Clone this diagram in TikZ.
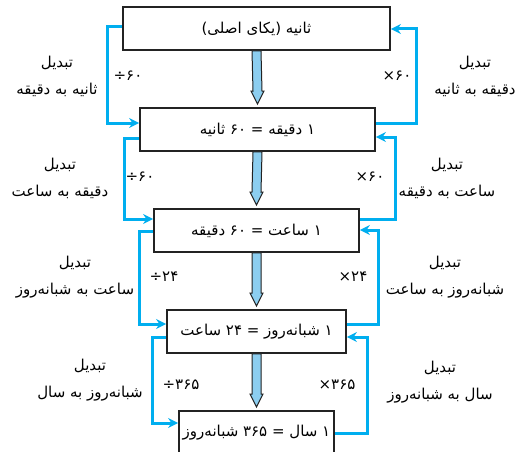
\documentclass[tikz,border=0pt]{standalone}
\usepackage{fontspec}
\usetikzlibrary{arrows.meta}
\TeXXeTstate=1
\newfontfamily\fa[Script=Arabic]{DejaVu Sans}
\newfontfamily\fanum{DejaVu Sans}
\definecolor{convblue}{RGB}{0,174,239}
\definecolor{shaftblue}{RGB}{140,206,240}
\definecolor{boxline}{RGB}{35,35,35}

\tikzset{
  unitbox/.style={draw=boxline, line width=1.8pt, minimum height=43pt, inner sep=0pt,
    font=\fa\fontsize{15}{17}\selectfont},
  conv/.style={draw=convblue, line width=3pt, -{Stealth[length=10pt,width=10pt]}},
  flow/.style={draw=boxline, line width=1pt, fill=shaftblue, line join=miter},
  convlabel/.style={align=center, font=\fa\fontsize{15}{27}\selectfont},
  oplabel/.style={font=\fanum\fontsize{15}{17}\selectfont}
}

\begin{document}
\begin{tikzpicture}[x=1pt,y=-1pt]
      \useasboundingbox (0,0) rectangle (522,452);
      % the five units
      \node[unitbox, minimum width=267pt] (sec)  at (256.5,28.5)  {\beginR ثانیه (یکای اصلی)\endR};
      \node[unitbox, minimum width=235pt] (min)  at (257.5,129.5) {\beginR ۱ دقیقه = ۶۰ ثانیه\endR};
      \node[unitbox, minimum width=205pt] (hour) at (256.5,230.5) {\beginR ۱ ساعت = ۶۰ دقیقه\endR};
      \node[unitbox, minimum width=179pt] (day)  at (256.5,331.5) {\beginR ۱ شبانه‌روز = ۲۴ ساعت\endR};
      \node[unitbox, minimum width=155pt] (year) at (256.5,432.5) {\beginR ۱ سال = ۳۶۵ شبانه‌روز\endR};

      % thick arrows down the middle
      \foreach \a/\b in {sec/min, min/hour, hour/day, day/year}
        \draw[flow] ([xshift=-4.5pt]\a.south) -- ([xshift=-4.5pt,yshift=16pt]\b.north)
          -- ([xshift=-6.5pt,yshift=16pt]\b.north) -- ([yshift=3pt]\b.north)
          -- ([xshift=6.5pt,yshift=16pt]\b.north) -- ([xshift=4.5pt,yshift=16pt]\b.north)
          -- ([xshift=4.5pt]\a.south) -- cycle;

      % left side: to the bigger unit
      \draw[conv] (sec.west |- 0,27)   -| (107.5,123) -- (min.west |- 0,123);
      \draw[conv] (min.west |- 0,138)  -| (124.5,219) -- (hour.west |- 0,219);
      \draw[conv] (hour.west |- 0,231) -| (139,324)   -- (day.west |- 0,324);
      \draw[conv] (day.west |- 0,337)  -| (152,423)   -- (year.west |- 0,423);
      % right side: back to the smaller unit
      \draw[conv] (min.east |- 0,123)  -| (416,29)  -- (sec.east |- 0,29);
      \draw[conv] (hour.east |- 0,219) -| (395,137) -- (min.east |- 0,137);
      \draw[conv] (day.east |- 0,324)  -| (378,230) -- (hour.east |- 0,230);
      \draw[conv] (year.east |- 0,433) -| (367,337) -- (day.east |- 0,337);

      % labels
      \node[convlabel] (ls2m) at (57,76)  {\beginR تبدیل\endR\\\beginR ثانیه به دقیقه\endR};
      \node[convlabel] (lm2h) at (60,178) {\beginR تبدیل\endR\\\beginR دقیقه به ساعت\endR};
      \node[convlabel] (lh2d) at (75,277) {\beginR تبدیل\endR\\\beginR ساعت به شبانه‌روز\endR};
      \node[convlabel] (ld2y) at (90,380) {\beginR تبدیل\endR\\\beginR شبانه‌روز به سال\endR};
      \node[convlabel] (lm2s) at (475,76)  {\beginR تبدیل\endR\\\beginR دقیقه به ثانیه\endR};
      \node[convlabel] (lh2m) at (447,178) {\beginR تبدیل\endR\\\beginR ساعت به دقیقه\endR};
      \node[convlabel] (ld2h) at (445,277) {\beginR تبدیل\endR\\\beginR شبانه‌روز به ساعت\endR};
      \node[convlabel] (ly2d) at (440,382) {\beginR تبدیل\endR\\\beginR سال به شبانه‌روز\endR};

      \node[oplabel] (div60a) at (128,76)  {÷۶۰};
      \node[oplabel] (div60b) at (140,177) {÷۶۰};
      \node[oplabel] (div24)  at (164,277) {÷۲۴};
      \node[oplabel] (div365) at (181,385) {÷۳۶۵};
      \node[oplabel] (mul60a) at (397,76)  {×۶۰};
      \node[oplabel] (mul60b) at (370,177) {×۶۰};
      \node[oplabel] (mul24)  at (353,277) {×۲۴};
      \node[oplabel] (mul365) at (337,385) {×۳۶۵};
\end{tikzpicture}
\end{document}
